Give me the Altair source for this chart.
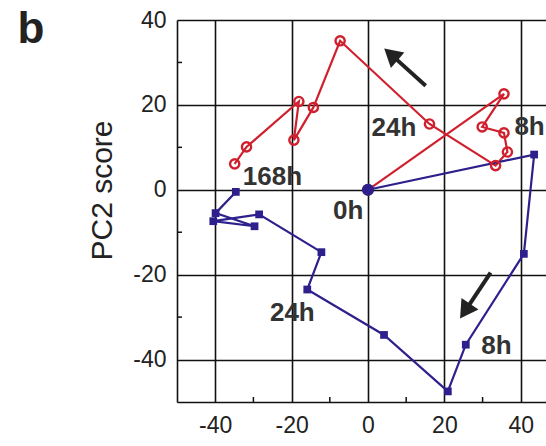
import altair as alt
import pandas as pd

# ---- data ----
red_x = [0, 35.6, 29.9, 35.6, 36.5, 33.4, 16.1, -7.3, -14.3, -19.4, -18.1, -31.8, -34.9]
red_y = [0, 22.6, 14.8, 13.4, 8.9, 5.7, 15.5, 35.1, 19.4, 11.7, 20.8, 10.1, 6.1]

blue_x = [0, 43.5, 40.8, 25.6, 20.9, 4.2, -15.9, -12.2, -28.5, -40.5, -29.7, -39.9, -34.6]
blue_y = [0, 8.3, -15.1, -36.5, -47.5, -34.2, -23.5, -14.7, -5.8, -7.4, -8.6, -5.5, -0.5]

label_text = ["0h", "24h", "8h", "168h", "24h", "8h"]
label_x = [-5.2, 6.8, 42.3, -25.0, -19.8, 33.6]
label_y = [-5.0, 14.6, 14.8, 2.9, -29.0, -36.7]

arrow_tail_x = [15.1, 32.1]
arrow_tail_y = [24.5, -19.5]
arrow_head_x = [6.0, 25.4]
arrow_head_y = [31.9, -28.6]
arrow_angle = [311, 214]

major_ticks = [-40, -20, 0, 20, 40]
minor_ticks = [-30, -10, 10, 30]

RED = "#d0202e"
BLUE = "#2d1f8c"
FONT = "Liberation Sans"

red = pd.DataFrame({"x": red_x, "y": red_y, "order": range(len(red_x))})
blue = pd.DataFrame({"x": blue_x, "y": blue_y, "order": range(len(blue_x))})
labels = pd.DataFrame({"x": label_x, "y": label_y, "text": label_text})
arrows = pd.DataFrame({"x": arrow_tail_x, "y": arrow_tail_y,
                       "x2": arrow_head_x, "y2": arrow_head_y, "angle": arrow_angle})
minors = pd.DataFrame({"v": minor_ticks})

W, H = 369, 382

xscale = alt.Scale(domain=[-50, 46.6], nice=False, zero=False)
yscale = alt.Scale(domain=[-50, 40], nice=False, zero=False)

xax = alt.Axis(values=major_ticks, grid=True, gridColor="#111", gridWidth=1.6, gridOpacity=1,
               ticks=False, domainColor="#111", domainWidth=1.6, labelFont=FONT,
               labelFontSize=23, labelColor="#222", labelPadding=12, title=None,
               labelExpr="'' + datum.value")
yax = alt.Axis(values=major_ticks, grid=True, gridColor="#111", gridWidth=1.6, gridOpacity=1,
               ticks=False, domainColor="#111", domainWidth=1.6, labelFont=FONT,
               labelFontSize=23, labelColor="#222", labelPadding=11,
               labelExpr="'' + datum.value",
               title="PC2 score", titleFont=FONT, titleFontSize=30, titleFontWeight="normal",
               titleColor="#222", titleX=-75, titleY=170, titleAngle=270,
               titleAlign="center", titleBaseline="middle")

base_red = alt.Chart(red)
base_blue = alt.Chart(blue)

red_line = base_red.mark_line(color=RED, strokeWidth=2.2).encode(
    x=alt.X("x:Q", scale=xscale, axis=xax),
    y=alt.Y("y:Q", scale=yscale, axis=yax),
    order="order:Q")
red_pts = base_red.mark_point(shape="circle", color=RED, filled=False, size=85, strokeWidth=2.4,
                              opacity=1).encode(
    x=alt.X("x:Q", scale=xscale), y=alt.Y("y:Q", scale=yscale))

blue_line = base_blue.mark_line(color=BLUE, strokeWidth=2.2).encode(
    x=alt.X("x:Q", scale=xscale), y=alt.Y("y:Q", scale=yscale), order="order:Q")
blue_pts = base_blue.mark_point(shape="square", color=BLUE, filled=True, size=60, opacity=1).encode(
    x=alt.X("x:Q", scale=xscale), y=alt.Y("y:Q", scale=yscale))

start_pt = alt.Chart(blue.iloc[[0]]).mark_point(shape="circle", color=BLUE, filled=True,
                                                  size=150, opacity=1).encode(
    x=alt.X("x:Q", scale=xscale), y=alt.Y("y:Q", scale=yscale))

text = alt.Chart(labels).mark_text(font=FONT, fontSize=26, fontWeight="bold", color="#333",
                                   align="center", baseline="middle").encode(
    x=alt.X("x:Q", scale=xscale), y=alt.Y("y:Q", scale=yscale), text="text:N")

shaft = alt.Chart(arrows).mark_rule(color="#222", strokeWidth=4).encode(
    x=alt.X("x:Q", scale=xscale), y=alt.Y("y:Q", scale=yscale), x2="x2:Q", y2="y2:Q")
head = alt.Chart(arrows).mark_point(shape="triangle-up", filled=True, color="#222", size=420,
                                    opacity=1).encode(
    x=alt.X("x2:Q", scale=xscale), y=alt.Y("y2:Q", scale=yscale),
    angle=alt.Angle("angle:Q", scale=None))

minor_x = alt.Chart(minors).mark_rule(color="#111", strokeWidth=1.5).encode(
    x=alt.X("v:Q", scale=xscale), y=alt.value(H), y2=alt.value(H - 5))
minor_y = alt.Chart(minors).mark_rule(color="#111", strokeWidth=1.5).encode(
    y=alt.Y("v:Q", scale=yscale), x=alt.value(0), x2=alt.value(5))

panel_letter = alt.Chart(pd.DataFrame({"t": ["b"]})).mark_text(
    font=FONT, fontSize=44, fontWeight="bold", color="#222", align="center",
    baseline="alphabetic").encode(x=alt.value(-146), y=alt.value(23), text="t:N")

chart = alt.layer(red_line, blue_line, red_pts, blue_pts, start_pt, shaft, head, text,
                  minor_x, minor_y, panel_letter).properties(
    width=W, height=H,
    autosize=alt.AutoSizeParams(type="none"),
    padding={"left": 177, "top": 20, "right": 0, "bottom": 44},
).configure_view(stroke=None).configure(background="white")

chart.save("out.html", embed_options={"renderer": "svg", "actions": False})
